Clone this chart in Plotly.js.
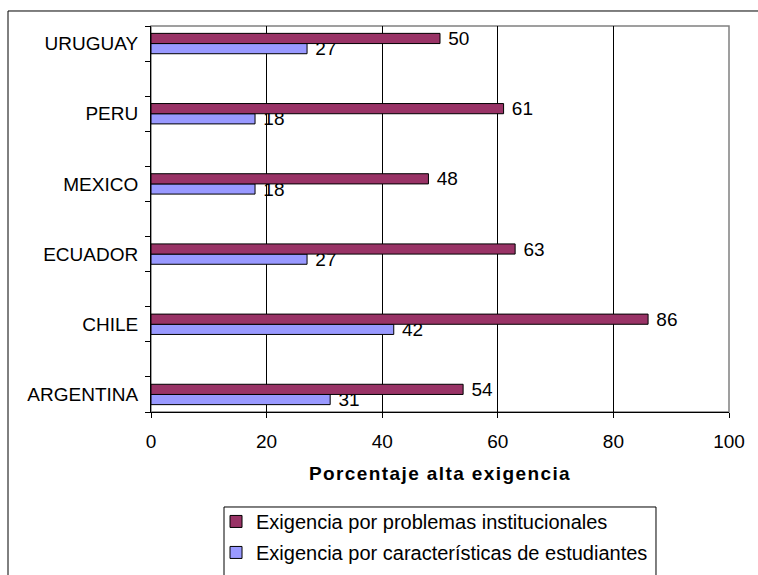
<!DOCTYPE html>
<html>
<head>
<meta charset="utf-8">
<script src="https://cdn.plot.ly/plotly-3.0.1.min.js"></script>
<style>html,body{margin:0;padding:0;background:#fff;}#chart{width:758px;height:575px;}
.xtitle{letter-spacing:1.4px;}</style>
</head>
<body>
<div id="chart"></div>
<script>
// Categories listed bottom to top
const countries = ["ARGENTINA", "CHILE", "ECUADOR", "MEXICO", "PERU", "URUGUAY"];
const institucionales = [54, 86, 63, 48, 61, 50];
const estudiantes = [31, 42, 27, 18, 18, 27];
const xTicks = [0, 20, 40, 60, 80, 100];
const seriesNames = ["Exigencia por problemas institucionales", "Exigencia por características de estudiantes"];

// each country sits in every other slot (blank slot between countries)
const ypos = countries.map((c, i) => i * 2);
const FONT = "Liberation Sans, Arial, sans-serif";

const traceStud = {
  type: "bar", orientation: "h",
  y: ypos, x: estudiantes, name: seriesNames[1],
  marker: {color: "#9999FF", line: {color: "#000000", width: 1}},
  text: estudiantes.map(v => " " + v), textposition: "outside",
  textfont: {family: FONT, size: 19, color: "#000"},
  cliponaxis: false, constraintext: "none", legendrank: 2, legendgroup: "b", hoverinfo: "x+name"
};
const traceInst = {
  type: "bar", orientation: "h",
  y: ypos, x: institucionales, name: seriesNames[0],
  marker: {color: "#993366", line: {color: "#000000", width: 1}},
  text: institucionales.map(v => " " + v), textposition: "outside",
  textfont: {family: FONT, size: 19, color: "#000"},
  cliponaxis: false, constraintext: "none", legendrank: 1, legendgroup: "a", hoverinfo: "x+name"
};

const layout = {
  width: 758, height: 575,
  margin: {l: 151, r: 29, t: 26, b: 163, autoexpand: false},
  paper_bgcolor: "#fff", plot_bgcolor: "#fff",
  font: {family: FONT, size: 19, color: "#000"},
  barmode: "group", bargap: 0.71, bargroupgap: 0,
  showlegend: true,
  legend: {
    x: 0.1125, y: -0.233, xanchor: "left", yanchor: "top",
    borderwidth: 0, bgcolor: "rgba(0,0,0,0)",
    font: {family: FONT, size: 20, color: "#000"},
    tracegroupgap: 2, itemwidth: 30
  },
  xaxis: {
    range: [0, 100], tickvals: xTicks, ticktext: xTicks.map(String),
    showgrid: true, gridcolor: "#000", gridwidth: 1,
    showline: true, linecolor: "#000", linewidth: 1,
    ticks: "outside", ticklen: 5, tickcolor: "#000",
    zeroline: false, fixedrange: true, ticklabelstandoff: 7,
    tickfont: {family: FONT, size: 19},
    title: {text: "<b>Porcentaje alta exigencia</b>", font: {family: FONT, size: 19}, standoff: 15}
  },
  yaxis: {
    range: [-0.5, 10.5], tickvals: ypos, ticktext: countries,
    showgrid: false, zeroline: false,
    showline: true, linecolor: "#000", linewidth: 1,
    ticks: "", ticklabelstandoff: 8,
    tickfont: {family: FONT, size: 19},
    minor: {tickmode: "linear", tick0: -0.5, dtick: 1, ticks: "outside", ticklen: 5, tickcolor: "#000", showgrid: false},
    fixedrange: true
  },
  shapes: [
    {type: "rect", xref: "paper", yref: "paper", x0: 0, x1: 1, y0: 0, y1: 1,
     line: {color: "#808080", width: 1.5}, layer: "below"},
    {type: "rect", xref: "paper", yref: "paper", x0: -0.2474, x1: 1.08, y0: -0.6, y1: 1.0389,
     line: {color: "#000", width: 1}, layer: "below"},
    {type: "rect", xref: "paper", yref: "paper", x0: 0.1263, x1: 0.8737, y0: -0.6, y1: -0.2461,
     line: {color: "#000", width: 1}, layer: "below"}
  ]
};

Plotly.newPlot("chart", [traceStud, traceInst], layout, {displayModeBar: false, staticPlot: true});
</script>
</body>
</html>
